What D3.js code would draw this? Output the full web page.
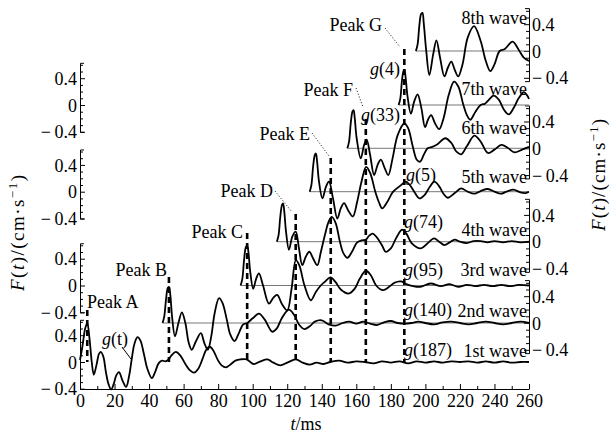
<!DOCTYPE html>
<html><head><meta charset="utf-8">
<script src="https://cdn.jsdelivr.net/npm/d3@7"></script>
<style>
body{margin:0;background:#fff;}
svg{display:block;}
svg text{font-family:'Liberation Serif','DejaVu Serif',serif !important;}
</style></head><body>
<svg id="chart" width="615" height="435"></svg>
<script>
// ---------- data (t in ms, F in cm/s, relative to each wave's own zero) ----------
const wave1 = [[0,0.03],[1.5,0.25],[3,0.5],[4.2,0.58],[5.5,0.35],[6.8,0.0],[8,-0.19],[9.5,-0.05],[11,0.12],[12,0.15],[13.5,0.08],[15,-0.15],[16.5,-0.33],[18,-0.41],[19.5,-0.33],[21,-0.2],[22.6,-0.15],[24.5,-0.27],[26.7,-0.37],[28.5,-0.2],[30,0.05],[31.5,0.27],[33.3,0.37],[35,0.32],[37,0.12],[39,-0.1],[41.6,-0.24],[43.5,-0.15],[45.5,-0.02],[47.5,0.02],[49.5,0.01],[51,0.03],[53,0.1],[55.5,0.15],[58,0.1],[61,-0.03],[63.5,-0.12],[66,-0.16],[68.5,-0.1],[71,0.05],[73,0.18],[75,0.23],[77,0.18],[80,0.02],[82,-0.05],[84.5,-0.08],[87,-0.04],[90,0.02],[93,0.04],[96.5,0.04],[100.5,-0.03],[104.5,0.01],[108.5,0.04],[112,-0.01],[116,-0.05],[120,-0.01],[125,0.04],[129,-0.01],[133,-0.04],[137,-0.01],[141,-0.03],[145,0.0],[150,0.02],[155,-0.01],[160,0.01],[165,0.0],[170,-0.02],[175,0.01],[180,-0.01],[185,0.01],[190,-0.02],[195,0.01],[200,-0.01],[205,0.01],[210,-0.01],[215,0.01],[220,0.0],[225,0.01],[230,-0.01],[235,0.01],[240,-0.01],[245,0.01],[250,-0.01],[255,0.0],[260,0.0]];
const wave2 = [[47.8,0],[48.8,0.1],[49.8,0.35],[50.8,0.52],[51.5,0.54],[52.3,0.42],[53.3,0.1],[55,-0.2],[57,0.0],[59,0.16],[61,0.0],[63,-0.3],[64.7,-0.4],[67,-0.28],[70,-0.15],[72,-0.3],[74,-0.4],[76,-0.2],[78,0.15],[80.5,0.37],[82.5,0.3],[85,0.05],[87,-0.17],[89.5,-0.27],[92,-0.15],[94.5,-0.02],[96.8,0.0],[100,0.07],[103.6,0.14],[107,0.05],[111.3,-0.13],[114,-0.08],[117,0.08],[121,0.2],[124,0.12],[127,-0.03],[130,-0.09],[133,-0.05],[136,0.02],[140,0.04],[144,-0.02],[148,-0.04],[152,0.0],[156,0.02],[160,-0.01],[164,0.02],[168,-0.01],[172,-0.03],[176,0.01],[180,0.03],[184,0.0],[188,-0.01],[192,0.0],[196,0.02],[200,0.0],[205,-0.02],[210,0.01],[215,0.02],[220,0.0],[225,-0.02],[230,0.0],[235,0.02],[240,0.0],[245,-0.02],[250,0.0],[255,0.02],[260,0.0]];
const wave3 = [[93,0],[94,0.1],[95,0.38],[96,0.57],[96.8,0.6],[97.6,0.48],[98.6,0.2],[100.3,-0.05],[102,0.1],[103.6,0.18],[106,0.0],[109.4,-0.27],[112,-0.18],[114.2,-0.14],[117,-0.28],[120,-0.37],[122.5,-0.05],[125,0.38],[127,0.3],[130,0.0],[133.6,-0.22],[136.5,-0.1],[139.4,0.0],[142,0.06],[145,0.12],[148,0.05],[151,-0.06],[155.5,-0.12],[159,-0.05],[162,0.1],[165.5,0.22],[168.5,0.15],[171.5,0.0],[175.5,-0.07],[179,-0.02],[182,0.04],[186,0.06],[189,0.02],[193,-0.01],[197,-0.02],[203,0.03],[209,-0.01],[214,0.02],[219,-0.02],[224,0.01],[229,-0.01],[234,0.01],[239,-0.01],[244,0.01],[249,-0.01],[254,0.01],[260,0.0]];
const wave4 = [[114,0],[115,0.1],[116,0.38],[117,0.55],[117.6,0.57],[118.3,0.45],[119.3,0.15],[121,-0.12],[123,0.08],[124.9,0.15],[126.8,-0.1],[128.7,-0.35],[130.8,-0.22],[132.8,-0.15],[135,-0.25],[137.4,-0.35],[139.5,-0.15],[142,0.12],[144,0.3],[145.8,0.37],[148,0.28],[150.5,0.0],[152.5,-0.17],[154.8,-0.24],[157.5,-0.15],[160.5,-0.01],[163,0.02],[165.5,0.03],[167.5,0.09],[169.5,0.12],[172,0.06],[175,-0.06],[177,-0.15],[180,-0.1],[183,0.05],[186.5,0.18],[189,0.12],[192,-0.02],[197.4,-0.1],[201,-0.03],[205,0.05],[208,0.0],[211,-0.05],[214,-0.01],[217,0.03],[220,0.0],[224,-0.02],[228,0.01],[232,0.01],[236,-0.01],[240,0.01],[245,-0.01],[250,0.01],[255,-0.01],[260,0.0]];
const wave5 = [[133,0],[134,0.1],[135,0.38],[136,0.55],[136.6,0.57],[137.3,0.45],[138.4,0.15],[140.4,-0.1],[142.5,0.08],[144.2,0.15],[146.5,-0.1],[149,-0.4],[151,-0.25],[152.9,-0.17],[155.3,-0.28],[158,-0.37],[160.5,-0.15],[163,0.15],[165.7,0.37],[168,0.28],[171,0.0],[173,-0.15],[175,-0.25],[178,-0.15],[181,-0.01],[183.5,0.05],[186,0.1],[188.7,0.15],[191,0.1],[194,-0.02],[196.5,-0.1],[199.5,-0.05],[202.5,0.07],[205.2,0.15],[208,0.08],[210.5,-0.03],[213,-0.09],[217,-0.02],[220.7,0.05],[224.5,0.0],[228.4,-0.03],[232,0.01],[236.2,0.04],[240,0.0],[243.6,-0.03],[247,0.0],[251,0.03],[255,-0.01],[258,-0.02],[260,0.0]];
const wave6 = [[154.8,0],[155.8,0.1],[156.8,0.38],[157.8,0.55],[158.4,0.57],[159.1,0.45],[160.2,0.15],[162.6,-0.15],[164.5,0.05],[166,0.13],[168,-0.1],[170.3,-0.4],[172.3,-0.25],[174.2,-0.17],[176.5,-0.3],[178.5,-0.4],[181,-0.15],[184,0.2],[187.8,0.37],[190,0.3],[192.5,0.05],[195,-0.17],[197,-0.2],[199,-0.1],[201.3,0.0],[204,0.02],[207,0.06],[211.5,0.15],[215,0.08],[218,-0.05],[220.7,-0.09],[224,0.03],[228.4,0.19],[232,0.1],[236.2,-0.07],[240,-0.02],[244,0.05],[248,0.0],[251.6,-0.06],[256,-0.02],[260,0.02]];
const wave7 = [[184.5,0],[185.5,0.1],[186.5,0.38],[187.4,0.51],[187.9,0.52],[188.6,0.4],[189.7,0.12],[191.6,-0.13],[193.5,0.05],[195.5,0.16],[197.7,-0.05],[199.8,-0.33],[201.5,-0.22],[203.3,-0.15],[205.7,-0.28],[208,-0.36],[210.5,-0.2],[213.5,0.15],[216.6,0.35],[219,0.28],[222,0.0],[224,-0.15],[226,-0.22],[229,-0.1],[232,0.0],[234.5,0.02],[236.5,0.07],[239.5,0.14],[242.5,0.08],[245.5,-0.07],[248.3,-0.14],[251,-0.05],[254,0.1],[257,0.19],[259,0.14],[260,0.09]];
const wave8 = [[194.5,0],[195.5,0.1],[196.5,0.38],[197.5,0.55],[198.3,0.57],[199.1,0.4],[200.5,0.0],[202.3,-0.36],[204.5,-0.05],[206.4,0.16],[208.5,-0.1],[211,-0.38],[213,-0.25],[215,-0.16],[217,-0.28],[219,-0.38],[221.5,-0.2],[224.5,0.2],[228.2,0.37],[232,0.15],[235,-0.15],[237.6,-0.3],[240,-0.2],[243,0.0],[246,0.03],[250.5,0.14],[254,0.02],[257,-0.1],[260,-0.15]];

const waveNames = ["1st wave","2nd wave","3rd wave","4th wave","5th wave","6th wave","7th wave","8th wave"];
const gArgs = ["(187)","(140)","(95)","(74)","(5)","(33)","(4)"];
const peakNames = ["Peak A","Peak B","Peak C","Peak D","Peak E","Peak F","Peak G"];
const peakTimes = [4.2,51.5,96.8,124.9,145.2,165.5,187.8];
const xTicks = d3.range(0,261,20);
const yTicks = [-0.4,0,0.4];

// ---------- layout ----------
const waves = [wave1,wave2,wave3,wave4,wave5,wave6,wave7,wave8];
const svg = d3.select("#chart");
const FONT = "'Liberation Serif','DejaVu Serif',serif";
const FS = 18;
const x = d3.scaleLinear().domain([0,260]).range([80,529]);
const baselines = [362,323,285.5,241.7,191.7,148.3,105,51];
const unit = 67;
const leftDom = [-0.4,0.63], rightDom = [-0.45,0.64];
const yScales = baselines.map((b,i)=>{
  const dom = i%2===0 ? leftDom : rightDom;
  return d3.scaleLinear().domain(dom).range([b - dom[0]*unit, b - dom[1]*unit]);
});
const fmt = d => d<0 ? "\u2212\u2009"+Math.abs(d) : String(d);

// x axis
const gx = svg.append("g").attr("transform","translate(0,389)")
  .call(d3.axisBottom(x).tickValues(xTicks).tickSizeInner(-5).tickSizeOuter(0).tickPadding(5));
gx.attr("font-size",FS).attr("font-family",FONT);
gx.select(".domain").attr("stroke-width",1.2);
svg.append("g").attr("transform","translate(0,389)")
  .call(d3.axisBottom(x).tickValues(d3.range(10,260,20)).tickSizeInner(-3).tickSizeOuter(0).tickFormat(""))
  .call(g=>g.select(".domain").remove());

// y axes
yScales.forEach((y,i)=>{
  const left = i%2===0;
  const xp = left ? 80 : 529;
  const ax = (left ? d3.axisLeft(y) : d3.axisRight(y));
  const g = svg.append("g").attr("transform",`translate(${xp},0)`)
    .call(ax.tickValues(yTicks).tickSizeInner(-5).tickSizeOuter(-4).tickPadding(3).tickFormat(fmt));
  g.attr("font-size",FS).attr("font-family",FONT);
  g.selectAll(".tick text").attr("dy","0.34em");
  const minor = d3.range(-4,7).map(k=>k/10).filter(v=>v>=y.domain()[0]-1e-9 && v<=y.domain()[1] && Math.abs(v)>1e-9 && Math.abs(Math.abs(v)-0.4)>1e-9);
  const ax2 = (left ? d3.axisLeft(y) : d3.axisRight(y));
  svg.append("g").attr("transform",`translate(${xp},0)`)
    .call(ax2.tickValues(minor).tickSizeInner(-3).tickSizeOuter(0).tickFormat(""))
    .call(g=>g.select(".domain").remove());
});

// zero lines for waves 2..8
waves.forEach((w,i)=>{
  if(i===0) return;
  svg.append("line").attr("x1",x(w[0][0])).attr("x2",x(260))
    .attr("y1",yScales[i](0)).attr("y2",yScales[i](0))
    .attr("stroke","#777").attr("stroke-width",1);
});

// curves
waves.forEach((w,i)=>{
  const line = d3.line().x(d=>x(d[0])).y(d=>yScales[i](d[1])).curve(d3.curveCatmullRom.alpha(0.5));
  svg.append("path").datum(w).attr("d",line).attr("fill","none")
    .attr("stroke","#000").attr("stroke-width",1.8).attr("stroke-linejoin","round");
});

// dashed peak markers
const dashTops = [310,277,233,214,158,119,49];
peakTimes.forEach((t,i)=>{
  svg.append("line").attr("x1",x(t)).attr("x2",x(t)).attr("y1",dashTops[i]).attr("y2",362)
    .attr("stroke","#000").attr("stroke-width",2.6).attr("stroke-dasharray","6,4");
});

// peak labels
const peakLabelPos = [[87,308,"start"],[167,276,"end"],[243,238,"end"],[273,197,"end"],[310,140,"end"],[353,96,"end"],[382,31,"end"]];
peakNames.forEach((n,i)=>{
  const p = peakLabelPos[i];
  svg.append("text").attr("x",p[0]).attr("y",p[1]).attr("text-anchor",p[2])
    .attr("font-size",FS).attr("font-family",FONT).text(n);
});
// dotted leaders
[[275,191,292,212],[312,133,329,156],[356,88,363,107],[385,28,400,47]].forEach(l=>{
  svg.append("line").attr("x1",l[0]).attr("y1",l[1]).attr("x2",l[2]).attr("y2",l[3])
    .attr("stroke","#000").attr("stroke-width",0.8).attr("stroke-dasharray","1.2,1.8");
});

// g labels
function gLabel(xx,yy,arg,anchor){
  const t = svg.append("text").attr("x",xx).attr("y",yy).attr("text-anchor",anchor)
    .attr("font-size",FS).attr("font-family",FONT);
  t.append("tspan").attr("font-style","italic").text("g");
  t.append("tspan").text(arg);
}
gLabel(102,345,"(t)","start");
svg.append("line").attr("x1",122).attr("y1",347).attr("x2",131).attr("y2",359).attr("stroke","#000").attr("stroke-width",1);
const gPos = [[404,356,"start"],[404,316,"start"],[404,276,"start"],[404,228,"start"],[406,181,"start"],[400,121,"end"],[400,75,"end"]];
gArgs.forEach((a,i)=>gLabel(gPos[i][0],gPos[i][1],a,gPos[i][2]));

// wave labels
const waveLabelY = [357,317,276,236,183,134,95,24];
waveNames.forEach((n,i)=>{
  svg.append("text").attr("x",527).attr("y",waveLabelY[i]).attr("text-anchor","end")
    .attr("font-size",FS).attr("font-family",FONT).text(n);
});

// axis titles
function yTitle(cx,cy,len){
  const t = svg.append("text").attr("transform",`translate(${cx},${cy}) rotate(-90)`)
    .attr("x",-len/2).attr("text-anchor","start").attr("font-size",19).attr("font-family",FONT)
    .attr("textLength",len).attr("lengthAdjust","spacing");
  t.append("tspan").attr("font-style","italic").text("F");
  t.append("tspan").text("(");
  t.append("tspan").attr("font-style","italic").text("t");
  t.append("tspan").text(")/(cm\u00b7s");
  t.append("tspan").attr("font-size",13).attr("dy",-7).text("\u22121");
  t.append("tspan").attr("dy",7).text(")");
}
yTitle(24,233,116);
yTitle(605,175,112);
const xt = svg.append("text").attr("x",306).attr("y",430).attr("text-anchor","middle")
  .attr("font-size",FS).attr("font-family",FONT);
xt.append("tspan").attr("font-style","italic").text("t");
xt.append("tspan").text("/ms");
</script>
</body></html>
